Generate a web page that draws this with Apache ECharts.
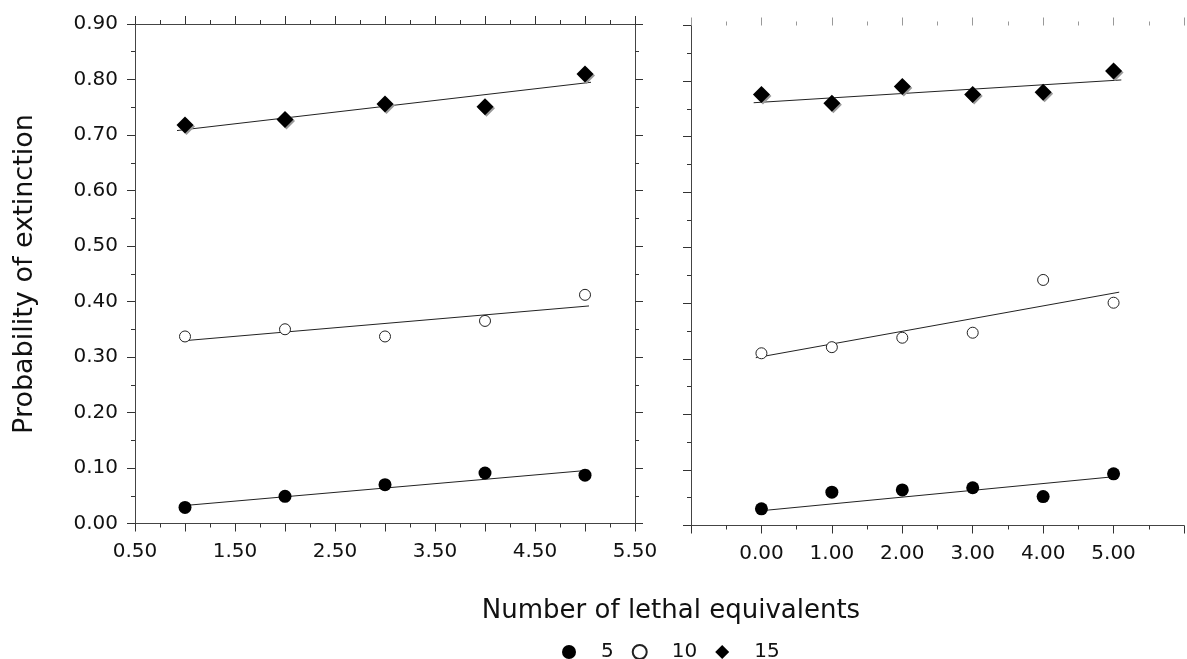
<!DOCTYPE html>
<html>
<head>
<meta charset="utf-8">
<script src="https://cdn.jsdelivr.net/npm/echarts/dist/echarts.min.js"></script>
<style>html,body{margin:0;padding:0;background:#fff}#c{width:1187px;height:659px}</style>
</head>
<body>
<div id="c"></div>
<script>
// ---- data ----
const seriesNames = ['5', '10', '15'];
const leftX = [1, 2, 3, 4, 5];
const left5 = [0.029, 0.049, 0.070, 0.091, 0.087];
const left10 = [0.337, 0.350, 0.337, 0.365, 0.412];
const left15 = [0.718, 0.728, 0.756, 0.751, 0.810];
const rightX = [0, 1, 2, 3, 4, 5];
const right5 = [0.030, 0.060, 0.064, 0.068, 0.052, 0.093];
const right10 = [0.310, 0.321, 0.338, 0.347, 0.442, 0.401];
const right15 = [0.776, 0.760, 0.790, 0.776, 0.780, 0.818];
// fitted regression lines (end points)
const leftFit5 = [[0.97, 0.032], [5.04, 0.096]];
const leftFit10 = [[0.97, 0.329], [5.04, 0.392]];
const leftFit15 = [[0.92, 0.708], [5.06, 0.795]];
const rightFit5 = [[0.03, 0.027], [5.02, 0.088]];
const rightFit10 = [[-0.08, 0.302], [5.08, 0.420]];
const rightFit15 = [[-0.11, 0.761], [5.11, 0.802]];
// tick labels
const leftXTicks = ['0.50', '1.50', '2.50', '3.50', '4.50', '5.50'];
const rightXTicks = ['0.00', '1.00', '2.00', '3.00', '4.00', '5.00'];
const yTicks = ['0.00', '0.10', '0.20', '0.30', '0.40', '0.50', '0.60', '0.70', '0.80', '0.90'];
const xTitle = 'Number of lethal equivalents';
const yTitle = 'Probability of extinction';

// ---- styling ----
const FONT = 'DejaVu Sans';
const pairs = (xs, ys) => xs.map((x, i) => [x, ys[i]]);

function xAxis(grid, pos, min, max, interval, ticks, opt) {
  opt = opt || {};
  return {
    type: 'value', gridIndex: grid, position: pos, min: min, max: max, interval: interval,
    axisLine: { show: opt.line !== false, onZero: false, lineStyle: { color: '#444', width: 1 } },
    axisTick: { show: true, length: 8, lineStyle: { color: opt.tickColor || '#333', width: 1 } },
    minorTick: { show: true, splitNumber: 2, length: 4, lineStyle: { color: opt.tickColor || '#333', width: 1 } },
    splitLine: { show: false },
    axisLabel: {
      show: !!ticks, margin: 18, color: '#111', fontFamily: FONT, fontSize: 20,
      formatter: v => { const s = Number(v).toFixed(2); return ticks && ticks.includes(s) ? s : ''; }
    }
  };
}
function yAxis(grid, pos, labels) {
  return {
    type: 'value', gridIndex: grid, position: pos, min: 0, max: 0.9, interval: 0.1,
    axisLine: { show: true, onZero: false, lineStyle: { color: '#444', width: 1 } },
    axisTick: { show: true, length: 8, lineStyle: { color: '#333', width: 1 } },
    minorTick: { show: true, splitNumber: 2, length: 4, lineStyle: { color: '#333', width: 1 } },
    splitLine: { show: false },
    axisLabel: {
      show: labels, margin: 17, color: '#111', fontFamily: FONT, fontSize: 20,
      formatter: v => { const s = Number(v).toFixed(2); return yTicks.includes(s) ? s : ''; }
    }
  };
}

const markerStyles = {
  '5': { symbol: 'circle', symbolSize: 13, itemStyle: { color: '#000', opacity: 1 } },
  '10': { symbol: 'circle', symbolSize: 11, itemStyle: { color: '#fff', borderColor: '#222', borderWidth: 1, opacity: 1 } },
  '15': { symbol: 'diamond', symbolSize: 17, itemStyle: { color: '#000', opacity: 1, shadowColor: '#999', shadowOffsetX: 1.5, shadowOffsetY: 1.5, shadowBlur: 0 } }
};
function scatter(name, xi, yi, data) {
  return Object.assign({ type: 'scatter', name: name, xAxisIndex: xi, yAxisIndex: yi, data: data, z: 3 }, markerStyles[name]);
}
function fit(name, xi, yi, data) {
  return {
    type: 'line', name: 'fit' + name, xAxisIndex: xi, yAxisIndex: yi, data: data,
    symbol: 'none', silent: true, z: 2, lineStyle: { color: '#222', width: 1 }
  };
}

const chart = echarts.init(document.getElementById('c'), null, { renderer: 'canvas' });
chart.setOption({
  animation: false,
  backgroundColor: '#fff',
  grid: [
    { left: 135, top: 24, width: 500, height: 499.5 },
    { left: 691, top: 25.5, width: 497, height: 500 }
  ],
  xAxis: [
    xAxis(0, 'bottom', 0.5, 5.5, 0.5, leftXTicks),
    xAxis(0, 'top', 0.5, 5.5, 0.5, null),
    xAxis(1, 'bottom', -1, 6, 1, rightXTicks),
    xAxis(1, 'top', -1, 6, 1, null, { line: false, tickColor: '#999' })
  ],
  yAxis: [
    yAxis(0, 'left', true),
    yAxis(0, 'right', false),
    yAxis(1, 'left', false)
  ],
  legend: {
    data: seriesNames,
    left: 557, top: 637,
    itemWidth: 14, itemHeight: 14, itemGap: 18,
    textStyle: { fontFamily: FONT, fontSize: 20, color: '#111', padding: [0, 0, 0, 20] }
  },
  graphic: [
    { type: 'text', x: 671, y: 611, style: { text: xTitle, font: '26px "DejaVu Sans"', fill: '#111', align: 'center', verticalAlign: 'middle', textAlign: 'center', textVerticalAlign: 'middle' } },
    { type: 'text', x: 25, y: 274, rotation: Math.PI / 2, style: { text: yTitle, font: '27px "DejaVu Sans"', fill: '#111', align: 'center', verticalAlign: 'middle', textAlign: 'center', textVerticalAlign: 'middle' } }
  ],
  series: [
    fit('5L', 0, 0, leftFit5), fit('10L', 0, 0, leftFit10), fit('15L', 0, 0, leftFit15),
    fit('5R', 2, 2, rightFit5), fit('10R', 2, 2, rightFit10), fit('15R', 2, 2, rightFit15),
    scatter('5', 0, 0, pairs(leftX, left5)),
    scatter('10', 0, 0, pairs(leftX, left10)),
    scatter('15', 0, 0, pairs(leftX, left15)),
    scatter('5', 2, 2, pairs(rightX, right5)),
    scatter('10', 2, 2, pairs(rightX, right10)),
    scatter('15', 2, 2, pairs(rightX, right15))
  ]
});
</script>
</body>
</html>
